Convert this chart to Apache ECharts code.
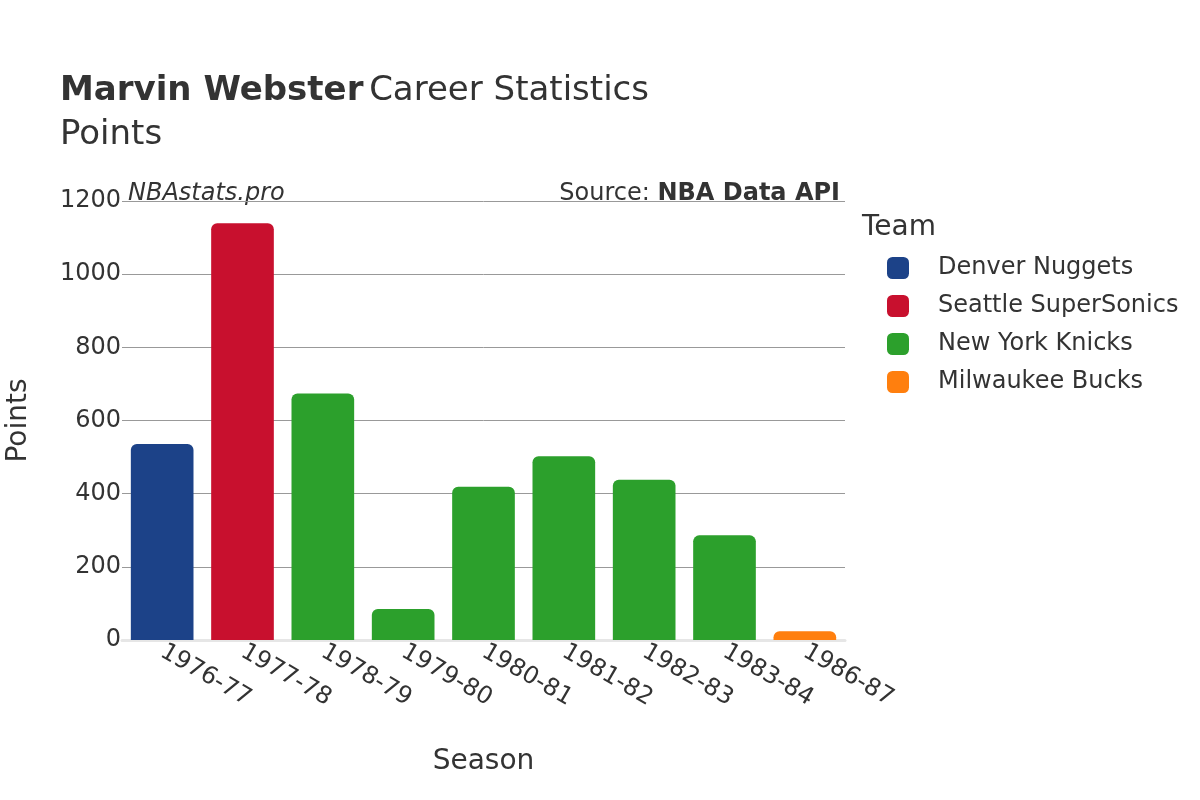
<!DOCTYPE html>
<html>
<head>
<meta charset="utf-8">
<script src="https://cdn.jsdelivr.net/npm/echarts@6/dist/echarts.min.js"></script>
<style>html,body{margin:0;padding:0;background:#fff}#c{width:1200px;height:800px}</style>
</head>
<body>
<div id="c"></div>
<script>
const seasons = ["1976-77","1977-78","1978-79","1979-80","1980-81","1981-82","1982-83","1983-84","1986-87"];
const teams = ["Denver Nuggets","Seattle SuperSonics","New York Knicks","Milwaukee Bucks"];
const teamColors = ["#1c4288","#c8102e","#2ca02c","#ff7f0e"];
const seasonTeam = ["Denver Nuggets","Seattle SuperSonics","New York Knicks","New York Knicks","New York Knicks","New York Knicks","New York Knicks","New York Knicks","Milwaukee Bucks"];
const points = [536, 1139, 674, 85, 419, 502, 438, 286, 24];
const yTicks = [0, 200, 400, 600, 800, 1000, 1200];

const FONT = "DejaVu Sans";
const series = teams.map((t, i) => ({
  name: t,
  type: 'bar',
  stack: 'all',
  barCategoryGap: '22%',
  itemStyle: { color: teamColors[i], borderRadius: [6,6,0,0] },
  data: seasons.map((s, j) => seasonTeam[j] === t ? points[j] : null)
}));

const chart = echarts.init(document.getElementById('c'));
chart.setOption({
  animation: false,
  textStyle: { fontFamily: FONT },
  title: {
    text: '{b|Marvin Webster} {n|Career Statistics}\n{n|Points}',
    left: 60, top: 69, padding: 0,
    textStyle: {
      fontWeight: 'normal',
      rich: {
        b: { fontFamily: FONT, fontSize: 34, fontWeight: 'bold', color: '#333', lineHeight: 44 },
        n: { fontFamily: FONT, fontSize: 34, fontWeight: 'normal', color: '#333', lineHeight: 44 }
      }
    }
  },
  graphic: [
    { type: 'text', left: 128, top: 182, style: { text: 'NBAstats.pro', font: 'italic 24px "DejaVu Sans"', fill: '#333' } },
    { type: 'text', right: 360, top: 182, style: { text: '{a|Source: }{b|NBA Data API}', rich: { a: { font: '24px "DejaVu Sans"', fill: '#333' }, b: { font: 'bold 24px "DejaVu Sans"', fill: '#333' } } } },
    { type: 'text', left: 862, top: 214, style: { text: 'Team', font: '28px "DejaVu Sans"', fill: '#333' } }
  ],
  legend: {
    orient: 'vertical',
    left: 887, top: 256, padding: 0,
    itemWidth: 22, itemHeight: 22, itemGap: 14,
    icon: 'roundRect',
    textStyle: { fontFamily: FONT, fontSize: 24, color: '#333', padding: [0,0,0,24] },
    data: teams
  },
  grid: { left: 122, right: 355, top: 201, bottom: 160, containLabel: false, outerBoundsMode: 'none' },
  xAxis: {
    type: 'category',
    data: seasons,
    name: 'Season',
    nameLocation: 'middle',
    nameGap: 108,
    nameTextStyle: { fontSize: 28, color: '#333', fontFamily: FONT },
    axisLine: { show: true, lineStyle: { color: '#e6e6e6', width: 3 } },
    axisTick: { show: false },
    axisLabel: { rotate: -30, fontSize: 24, color: '#333', fontFamily: FONT, margin: 10 }
  },
  yAxis: {
    type: 'value',
    min: 0, max: 1200, interval: 200,
    name: 'Points',
    nameLocation: 'middle',
    nameGap: 89,
    nameTextStyle: { fontSize: 28, color: '#333', fontFamily: FONT },
    axisLine: { show: false },
    axisTick: { show: false },
    axisLabel: { fontSize: 24, color: '#333', fontFamily: FONT, margin: 1, padding: [4,0,0,0],
      formatter: v => yTicks.includes(v) ? String(v) : '' },
    splitLine: { lineStyle: { color: '#999', width: 1 } }
  },
  series: series
});
</script>
</body>
</html>
